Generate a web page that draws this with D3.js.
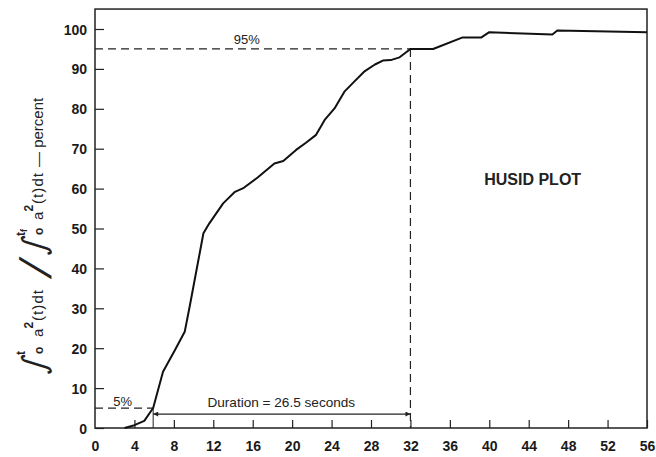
<!DOCTYPE html>
<html>
<head>
<meta charset="utf-8">
<script src="https://cdnjs.cloudflare.com/ajax/libs/d3/7.8.5/d3.min.js"></script>
<style>
    body { margin: 0; background: #fff; }
    svg { display: block; font-family: 'Liberation Sans', Arial, sans-serif; }
    .tick text { font-size: 14px; font-weight: bold; fill: #1a1a1a; }
    .tick line { stroke: #222; stroke-width: 1.2; }
</style>
</head>
<body>
<div class="container"></div>
<script>
const width = 656,
    height = 457;

// cumulative energy curve
const times = [3.0, 4.0, 5.0, 5.9, 6.9, 8.1, 9.1, 9.6, 10.3, 11.0, 11.6, 13.0, 14.2, 15.1, 16.5,
    18.2, 19.1, 20.4, 21.4, 22.4, 23.3, 24.3, 25.3, 26.3, 27.3, 28.4, 29.2, 30.0, 30.9, 32.0,
    34.3, 37.3, 39.2, 40.0, 46.4, 46.9, 56.0];
const percents = [0, 0.7, 1.8, 5.0, 14.1, 19.5, 24.1, 30.4, 39.6, 48.8, 51.3, 56.3, 59.2, 60.2, 62.8,
    66.3, 66.9, 69.7, 71.5, 73.4, 77.2, 80.1, 84.3, 86.8, 89.3, 91.1, 92.1, 92.2, 92.9, 95.0,
    95.0, 97.9, 97.9, 99.2, 98.6, 99.6, 99.2];

const xTicks = d3.range(0, 57, 4);
const yTicks = d3.range(0, 101, 10);

const startTime = 5.9,
    endTime = 32,
    lowLevel = 5,
    highLevel = 95,
    durationLabel = 'Duration = 26.5 seconds';

const x = d3.scaleLinear().domain([0, 56]).range([95, 647]);
const y = d3.scaleLinear().domain([0, 100]).range([428, 29]);

const svg = d3.select('.container')
    .append('svg')
    .attr('width', width)
    .attr('height', height);

svg.append('defs').selectAll('marker')
    .data(['start', 'end'])
    .enter()
    .append('marker')
    .attr('id', d => 'arrow-' + d)
    .attr('viewBox', '0 0 10 10')
    .attr('refX', d => d === 'end' ? 10 : 0)
    .attr('refY', 5)
    .attr('markerWidth', 9)
    .attr('markerHeight', 5)
    .attr('markerUnits', 'userSpaceOnUse')
    .attr('orient', 'auto')
    .append('path')
    .attr('d', d => d === 'end' ? 'M0,0L10,5L0,10z' : 'M10,0L0,5L10,10z')
    .attr('fill', '#222');

// axes, ticks pointing inwards
svg.append('g')
    .attr('transform', `translate(0,${y(0)})`)
    .call(d3.axisBottom(x).tickValues(xTicks).tickSizeInner(-8).tickSizeOuter(0).tickPadding(13))
    .call(g => g.select('.domain').remove())
    .call(g => g.select('.tick line').remove());

svg.append('g')
    .attr('transform', `translate(${x(0)},0)`)
    .call(d3.axisLeft(y).tickValues(yTicks).tickSizeInner(-9).tickSizeOuter(0).tickPadding(8))
    .call(g => g.select('.domain').remove())
    .call(g => g.selectAll('.tick text').attr('dy', '0.36em'));

svg.append('rect')
    .attr('x', x(0))
    .attr('y', y(105))
    .attr('width', x(56) - x(0))
    .attr('height', y(0) - y(105))
    .attr('fill', 'none')
    .attr('stroke', '#222')
    .attr('stroke-width', 1.5);

// 5% / 95% guides
const dashed = svg.append('g')
    .attr('stroke', '#222')
    .attr('stroke-width', 1.2)
    .attr('stroke-dasharray', '8,5')
    .attr('fill', 'none');

dashed.append('line')
    .attr('x1', x(0)).attr('x2', x(endTime))
    .attr('y1', y(highLevel)).attr('y2', y(highLevel));

dashed.append('line')
    .attr('x1', x(endTime)).attr('x2', x(endTime))
    .attr('y1', y(highLevel)).attr('y2', y(0));

dashed.append('line')
    .attr('x1', x(0)).attr('x2', x(startTime))
    .attr('y1', y(lowLevel)).attr('y2', y(lowLevel));

svg.append('line')
    .attr('x1', x(startTime)).attr('x2', x(endTime))
    .attr('y1', y(3.5)).attr('y2', y(3.5))
    .attr('stroke', '#222')
    .attr('stroke-width', 1.2)
    .attr('marker-start', 'url(#arrow-start)')
    .attr('marker-end', 'url(#arrow-end)');

svg.append('line')
    .attr('x1', x(startTime)).attr('x2', x(startTime))
    .attr('y1', y(lowLevel)).attr('y2', y(0))
    .attr('stroke', '#222')
    .attr('stroke-width', 1);

const line = d3.line()
    .x((d, i) => x(times[i]))
    .y(d => y(d));

svg.append('path')
    .datum(percents)
    .attr('d', line)
    .attr('fill', 'none')
    .attr('stroke', '#111')
    .attr('stroke-width', 2)
    .attr('stroke-linejoin', 'round');

// annotations
svg.append('text')
    .attr('x', x(15.4)).attr('y', y(96.3))
    .attr('text-anchor', 'middle')
    .attr('font-size', 13)
    .attr('fill', '#222')
    .text(highLevel + '%');

svg.append('text')
    .attr('x', x(2.8)).attr('y', y(5.6))
    .attr('text-anchor', 'middle')
    .attr('font-size', 13)
    .attr('fill', '#222')
    .text(lowLevel + '%');

svg.append('text')
    .attr('x', x(18.9)).attr('y', y(5.3))
    .attr('text-anchor', 'middle')
    .attr('font-size', 13.6)
    .attr('fill', '#222')
    .text(durationLabel);

svg.append('text')
    .attr('x', x(44.4)).attr('y', y(60.8))
    .attr('text-anchor', 'middle')
    .attr('font-size', 16)
    .attr('font-weight', 'bold')
    .attr('fill', '#222')
    .text('HUSID PLOT');

// rotated y label: integral ratio
const ylab = svg.append('g')
    .attr('transform', 'translate(42,374) rotate(-90)')
    .attr('fill', '#222');

const integral = (g, at, upper, sub) => {
    g.append('text')
        .attr('x', at).attr('y', 3)
        .attr('font-family', 'DejaVu Sans')
        .attr('font-size', 32)
        .attr('transform', `skewX(-14)`)
        .text('\u222B');
    g.append('text')
        .attr('x', at + 19).attr('y', -17)
        .attr('font-size', 12)
        .attr('font-weight', 'bold')
        .text(upper)
        .append('tspan')
        .attr('font-size', 9)
        .attr('dy', 2)
        .text(sub);
    g.append('text')
        .attr('x', at + 20).attr('y', 1)
        .attr('font-size', 12)
        .attr('font-weight', 'bold')
        .text('o');
};

const energy = (g, at) => {
    g.append('text')
        .attr('x', at).attr('y', 1)
        .attr('font-size', 15)
        .text('a');
    g.append('text')
        .attr('x', at + 8.5).attr('y', -9)
        .attr('font-size', 12)
        .attr('font-weight', 'bold')
        .text('2');
    g.append('text')
        .attr('x', at + 16).attr('y', 1)
        .attr('font-size', 15)
        .attr('textLength', 31)
        .attr('lengthAdjust', 'spacing')
        .text('(t)dt');
};

integral(ylab, 0, 't', '');
energy(ylab, 37);

ylab.append('text')
    .attr('x', 98).attr('y', 9)
    .attr('font-size', 44)
    .attr('transform', 'skewX(-18)')
    .text('/');

integral(ylab, 119, 't', 'f');
energy(ylab, 154);

ylab.append('text')
    .attr('x', 207).attr('y', 1)
    .attr('font-size', 15)
    .text('\u2014 percent');
</script>
</body>
</html>
